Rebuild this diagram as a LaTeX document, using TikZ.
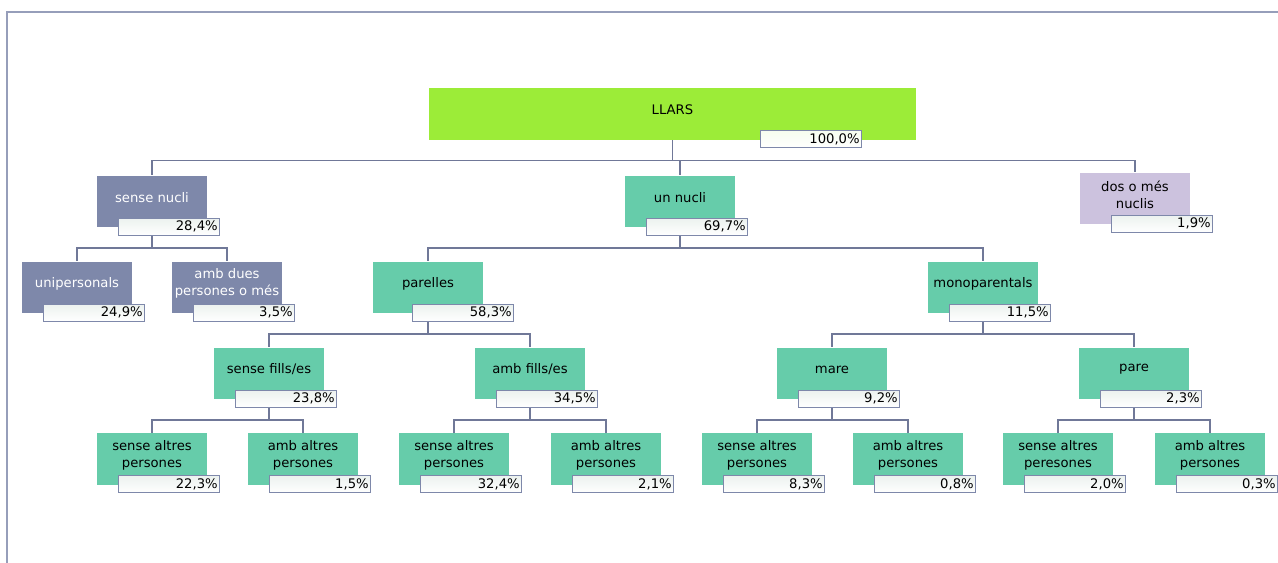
\documentclass[tikz,border=0pt]{standalone}
\usepackage{fontspec}
\usetikzlibrary{positioning}
\usetikzlibrary{backgrounds}
\newfontfamily\diagfont{DejaVu Sans}
\newcommand{\lfont}{\diagfont\fontsize{7.5}{9.6}\selectfont}
\definecolor{rootgreen}{RGB}{156,236,56}
\definecolor{nodegreen}{RGB}{102,204,170}
\definecolor{nodegrey}{RGB}{126,136,170}
\definecolor{nodelilac}{RGB}{204,194,222}
\definecolor{linegrey}{RGB}{112,120,152}
\definecolor{framegrey}{RGB}{150,158,186}
\definecolor{pctfill}{RGB}{236,242,239}
\tikzset{
        famnode/.style={rectangle, inner sep=0pt, minimum width=2.2cm, minimum height=1.04cm},
        % Root node
        node_root/.style={famnode, fill=rootgreen, minimum width=9.74cm},
        % Green nodes
        node_green/.style={famnode, fill=nodegreen},
        % Grey nodes
        node_grey/.style={famnode, fill=nodegrey},
        % Lilac node
        node_lilac/.style={famnode, fill=nodelilac},
        % Node texts
        node_text/.style={font=\lfont, align=center, inner sep=0pt, yshift=0.08cm},
        % Percentage boxes
        node_pct/.style={rectangle, anchor=north west, draw=nodegrey, line width=0.6pt,
            top color=pctfill, bottom color=white, minimum width=2.02cm, minimum height=0.34cm,
            text width=1.96cm, align=right, inner xsep=0.03cm, inner ysep=0pt, font=\lfont},
        conn/.style={draw=linegrey, line width=0.8pt}
}
% name, position, style, text colour, text, percentage
\newcommand{\llar}[7][0.42cm]{%
  \node[#4, label={[node_text, text=#5]center:{#6}}] (#2) at (#3) {};
  \node[node_pct] (#2-p) at ([xshift=#1, yshift=0.2cm]#2.south west) {#7};
}

\begin{document}
\begin{tikzpicture}[x=0.02cm, y=-0.02cm]
    \useasboundingbox (0,0) rectangle (1278,563);
    \draw[draw=framegrey, line width=0.6pt] (7,563) -- (7,12) -- (1278,12);

    % root
    \node[node_root, label={[node_text, text=black]center:{LLARS}}] (llars) at (672.5,114) {};
    \node[node_pct, top color=rootgreen!8] (llars-p) at ([xshift=6.62cm, yshift=0.2cm]llars.south west) {100,0\%};

    % first level
    \llar{sn}{152,201.5}{node_grey}{white}{sense nucli}{28,4\%}
    \llar{un}{680,201.5}{node_green}{black}{un nucli}{69,7\%}
    \llar[0.62cm]{dos}{1135,198.5}{node_lilac}{black}{dos o més\\nuclis}{1,9\%}

    % second level
    \llar{uni}{77,287.5}{node_grey}{white}{unipersonals}{24,9\%}
    \llar{ambd}{227,287.5}{node_grey}{white}{amb dues\\persones o més}{3,5\%}
    \llar[0.78cm]{par}{428,287.5}{node_green}{black}{parelles}{58,3\%}
    \llar{mono}{983,287.5}{node_green}{black}{monoparentals}{11,5\%}

    % third level
    \llar{sff}{269,373.5}{node_green}{black}{sense fills/es}{23,8\%}
    \llar{aff}{530,373.5}{node_green}{black}{amb fills/es}{34,5\%}
    \llar{mare}{832,373.5}{node_green}{black}{mare}{9,2\%}
    \llar{pare}{1134,373.5}{node_green}{black}{pare}{2,3\%}

    % leaves
    \llar{sffs}{152,459}{node_green}{black}{sense altres\\persones}{22,3\%}
    \llar{sffa}{303,459}{node_green}{black}{amb altres\\persones}{1,5\%}
    \llar{affs}{454,459}{node_green}{black}{sense altres\\persones}{32,4\%}
    \llar{affa}{606,459}{node_green}{black}{amb altres\\persones}{2,1\%}
    \llar{mares}{757,459}{node_green}{black}{sense altres\\persones}{8,3\%}
    \llar{marea}{908,459}{node_green}{black}{amb altres\\persones}{0,8\%}
    \llar{pares}{1058,459}{node_green}{black}{sense altres\\peresones}{2,0\%}
    \llar{parea}{1210,459}{node_green}{black}{amb altres\\persones}{0,3\%}

    % connectors
    \begin{pgfonlayer}{background}
        \foreach \p/\c in {llars/sn, llars/un, llars/dos,
                           sn/uni, sn/ambd, un/par, un/mono,
                           par/sff, par/aff, mono/mare, mono/pare,
                           sff/sffs, sff/sffa, aff/affs, aff/affa,
                           mare/mares, mare/marea, pare/pares, pare/parea}
            \draw[conn] (\p.south) -- ++(0,20) -| (\c.north);
    \end{pgfonlayer}
\end{tikzpicture}
\end{document}
